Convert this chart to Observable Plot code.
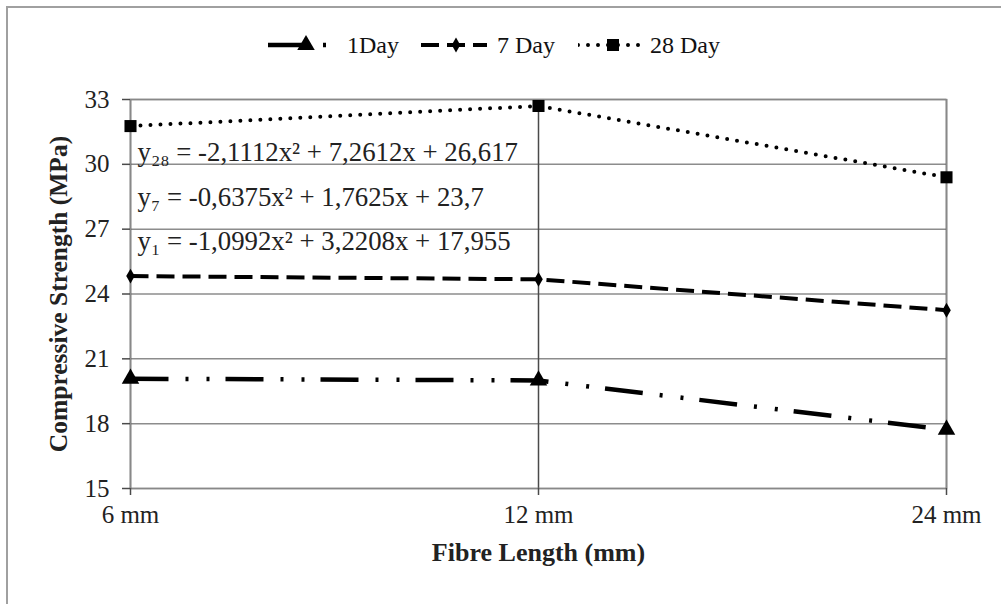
<!DOCTYPE html>
<html>
<head>
<meta charset="utf-8">
<script src="https://cdn.jsdelivr.net/npm/d3@7"></script>
<script src="https://cdn.jsdelivr.net/npm/@observablehq/plot@0.6"></script>
<style>
  body { margin: 0; background: #fff; }
  #wrap { position: relative; width: 1001px; height: 604px; overflow: hidden; font-family: "Liberation Serif", "Times New Roman", serif; }
  #border { position: absolute; left: 6px; top: 6px; width: 1100px; height: 700px; border-left: 2px solid #a0a0a0; border-top: 2px solid #a0a0a0; box-sizing: border-box; }
  #legend { position: absolute; top: 30px; left: 0; width: 1001px; height: 30px; }
  .sample { position: absolute; top: 0; }
  .ltext { position: absolute; top: 0; line-height: 30px; font-size: 24px; color: #111; font-family: "Liberation Serif", "Times New Roman", serif; white-space: nowrap; }
  #chart { position: absolute; left: 0; top: 0; }
</style>
</head>
<body>
<div id="wrap">
  <div id="border"></div>
  <div id="chart"></div>
  <div id="legend"></div>
</div>
<script>
// ---- data ----
const lengths = ["6 mm", "12 mm", "24 mm"];
const series = ["1Day", "7 Day", "28 Day"];
const day1 = [20.08, 20.0, 17.72];
const day7 = [24.83, 24.68, 23.25];
const day28 = [31.77, 32.70, 29.40];
const yTicks = [15, 18, 21, 24, 27, 30, 33];
const equations = [
  "y\u2082\u2088 = -2,1112x\u00b2 + 7,2612x + 26,617",
  "y\u2087 = -0,6375x\u00b2 + 1,7625x + 23,7",
  "y\u2081 = -1,0992x\u00b2 + 3,2208x + 17,955"
];
const equationY = [30.55, 28.45, 26.45];

// ---- styles per series ----
const styles = {
  "1Day":   { dash: "38,17,3,18,3,16", cap: "butt",  width: 4.5, symbol: "triangle", r: 6.5 },
  "7 Day":  { dash: "18,8",             cap: "butt",  width: 4,   symbol: "diamond",  r: 4.5 },
  "28 Day": { dash: "0,10",             cap: "round", width: 4,   symbol: "square",   r: 6.8 }
};

const values = [day1, day7, day28];
const rows = [];
series.forEach((s, i) => lengths.forEach((l, j) => rows.push({ series: s, length: l, value: values[i][j] })));
const eqRows = equations.map((t, i) => ({ text: t, y: equationY[i] }));

const serif = "'Liberation Serif', 'Times New Roman', serif";

const marks = [
  Plot.ruleY(yTicks, { stroke: "#8c8c8c", strokeWidth: 1.5 }),
  Plot.ruleX(lengths, { stroke: "#4a4a4a", strokeWidth: 1.5 }),
  Plot.frame({ stroke: "#888", strokeWidth: 1.5 }),
  Plot.text(eqRows, { x: () => lengths[0], y: "y", text: "text", textAnchor: "start", dx: 7, fontSize: 26.8, fill: "#222" })
];
series.forEach(s => {
  const st = styles[s];
  const d = rows.filter(r => r.series === s);
  marks.push(Plot.line(d, { x: "length", y: "value", stroke: "#000", strokeWidth: st.width, strokeDasharray: st.dash, strokeLinecap: st.cap }));
  marks.push(Plot.dot(d, { x: "length", y: "value", symbol: () => st.symbol, r: st.r, fill: "#000", stroke: "none" }));
});
marks.push(
  Plot.axisY(yTicks, { tickSize: 8, tickPadding: 13, fontSize: 25, stroke: "#4a4a4a", strokeWidth: 1.5, fill: "#222", label: null }),
  Plot.axisX(lengths, { tickSize: 7, tickPadding: 10, fontSize: 25, stroke: "#4a4a4a", strokeWidth: 1.5, fill: "#222", label: null }),
  Plot.text(["Fibre Length (mm)"], { frameAnchor: "bottom", dy: 72, fontSize: 26, fontWeight: "bold", fill: "#222" }),
  Plot.text(["Compressive Strength (MPa)"], { frameAnchor: "left", textAnchor: "middle", rotate: -90, dx: -72, fontSize: 25.5, fontWeight: "bold", fill: "#222" })
);

const chart = Plot.plot({
  width: 1001,
  height: 604,
  marginLeft: 130,
  marginRight: 55,
  marginTop: 99,
  marginBottom: 116,
  style: { fontFamily: serif, background: "transparent", overflow: "visible" },
  x: { type: "point", domain: lengths, padding: 0 },
  y: { domain: [15, 33] },
  symbol: { type: "identity" },
  marks
});
document.getElementById("chart").appendChild(chart);

// ---- legend ----
const samplePos = { "1Day": 268, "7 Day": 421, "28 Day": 578 };
const textPos = { "1Day": 347, "7 Day": 497, "28 Day": 650 };
const legend = d3.select("#legend");
series.forEach(s => {
  const st = styles[s];
  const w = 66;
  const svg = legend.append("svg").attr("class", "sample").style("left", samplePos[s] + "px").attr("width", w).attr("height", 30);
  svg.append("line").attr("x1", 0).attr("x2", w).attr("y1", 15).attr("y2", 15)
    .attr("stroke", "#000").attr("stroke-width", st.width)
    .attr("stroke-dasharray", st.dash).attr("stroke-linecap", st.cap);
  const sym = { triangle: d3.symbolTriangle, diamond: d3.symbolDiamond, square: d3.symbolSquare }[st.symbol];
  svg.append("path").attr("transform", `translate(${s === "1Day" ? 38 : w / 2 + 2},15)`)
    .attr("d", d3.symbol(sym, Math.PI * st.r * st.r)()).attr("fill", "#000");
  legend.append("div").attr("class", "ltext").style("left", textPos[s] + "px").text(s);
});
</script>
</body>
</html>
